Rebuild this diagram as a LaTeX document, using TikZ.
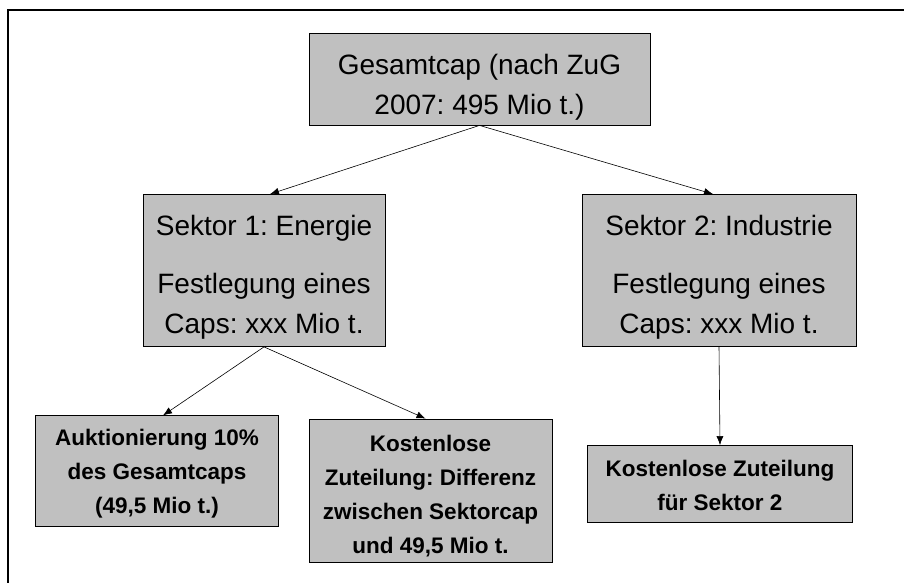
\documentclass[tikz,border=0pt]{standalone}
\usepackage{fontspec}
\setmainfont{Liberation Sans}
\usetikzlibrary{arrows.meta}
\definecolor{boxgray}{HTML}{C0C0C0}
\frenchspacing

\tikzset{
  capbox/.style={draw=black, fill=boxgray, line width=0.8pt, align=center, inner sep=1pt,
    font=\fontsize{28}{40}\selectfont},
  allocbox/.style={capbox, font=\fontsize{22.5}{34}\selectfont\bfseries},
}

\begin{document}
\begin{tikzpicture}[x=1pt,y=-1pt,>={Latex[length=9pt,width=7pt]}]
\useasboundingbox (0,0) rectangle (904,583);
\draw [line width=2pt] (904,10) -- (8,10) -- (8,583);
% caps
\node (top) [capbox, minimum width=341pt, minimum height=92pt, text height=78pt, text depth=6pt] at (479.5,79) {Gesamtcap (nach ZuG\\2007: 495 Mio t.)};
\node (sek1) [capbox, minimum width=242pt, minimum height=152pt, text height=131pt, text depth=6pt] at (264,270.5) {Sektor 1: Energie\\[18pt]Festlegung eines\\Caps: xxx Mio t.};
\node (sek2) [capbox, minimum width=274pt, minimum height=152pt, text height=131pt, text depth=6pt] at (719,270.5) {Sektor 2: Industrie\\[18pt]Festlegung eines\\Caps: xxx Mio t.};
% allocation
\node (auk) [allocbox, minimum width=243pt, minimum height=111pt, text height=91pt, text depth=6pt] at (157,471.3) {Auktionierung 10\%\\des Gesamtcaps\\(49,5 Mio t.)};
\node (kost1) [allocbox, minimum width=243pt, minimum height=143pt, text height=129pt, text depth=4pt] at (430.5,490.5) {Kostenlose\\Zuteilung: Differenz\\zwischen Sektorcap\\und 49,5 Mio t.};
\node (kost2) [allocbox, minimum width=265pt, minimum height=77pt, text height=55pt, text depth=2pt] at (720,484) {Kostenlose Zuteilung\\für Sektor 2};
\draw [->,line width=0.6pt] (top.south) -- ([xshift=6pt]sek1.north);
\draw [->,line width=0.6pt] (top.south) -- ([xshift=-6pt]sek2.north);
\draw [->,line width=0.6pt] (sek1.south) -- ([xshift=6pt]auk.north);
\draw [->,line width=0.6pt] (sek1.south) -- ([xshift=-5pt]kost1.north);
\draw [->,line width=0.6pt] (sek2.south) -- (kost2.north);
\end{tikzpicture}
\end{document}
